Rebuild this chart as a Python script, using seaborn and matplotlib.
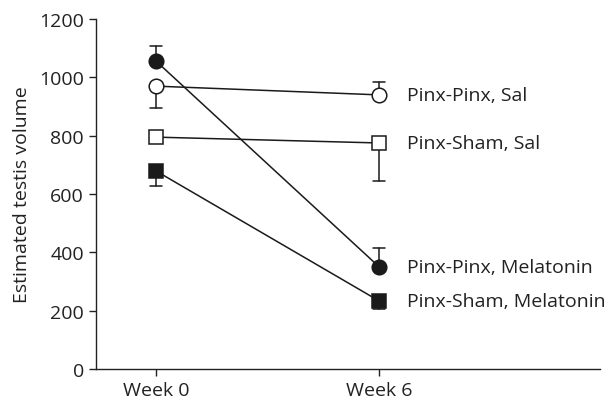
import matplotlib
matplotlib.use("Agg")
import matplotlib.pyplot as plt
import seaborn as sns
import pandas as pd
import numpy as np

weeks = ["Week 0", "Week 6"]
groups = ["Pinx-Pinx, Melatonin", "Pinx-Pinx, Sal", "Pinx-Sham, Sal", "Pinx-Sham, Melatonin"]
pp_mel = [1056, 350]
pp_sal = [970, 940]
ps_sal = [795, 775]
ps_mel = [679, 233]
# error bar ends (one-sided SEM)
pp_mel_err = [1107, 415]
pp_sal_err = [895, 985]
ps_sal_err = [None, 645]
ps_mel_err = [628, 205]

values = [pp_mel, pp_sal, ps_sal, ps_mel]
err_ends = [pp_mel_err, pp_sal_err, ps_sal_err, ps_mel_err]
markers = ["o", "o", "s", "s"]
faces = ["#1a1a1a", "white", "white", "#1a1a1a"]

rows = []
for g, vals in zip(groups, values):
    for i, v in enumerate(vals):
        rows.append({"group": g, "x": i, "volume": v})
df = pd.DataFrame(rows)

sns.set_style("ticks")
plt.rcParams["font.family"] = ["Open Sans", "DejaVu Sans"]

fig = plt.figure(figsize=(6.06, 4.02), dpi=100)
ax = fig.add_axes([0.158, 0.080, 0.832, 0.870])

for g, vals, ends in zip(groups, values, err_ends):
    for i, (v, e) in enumerate(zip(vals, ends)):
        if e is None:
            continue
        ax.plot([i, i], [v, e], color="#1a1a1a", lw=1.1, zorder=1)
        ax.plot([i - 0.025, i + 0.025], [e, e], color="#1a1a1a", lw=1.1, zorder=1)

for g, m, fc in zip(groups, markers, faces):
    sns.lineplot(data=df[df["group"] == g], x="x", y="volume", ax=ax,
                 color="#1a1a1a", lw=1.1, marker=m, markersize=10.5 if m == "o" else 9.5,
                 markerfacecolor=fc, markeredgecolor="#1a1a1a", markeredgewidth=1.1,
                 legend=False, zorder=3)

for g, vals in zip(groups, values):
    ax.text(1.125, vals[1], g, va="center", ha="left", fontsize=14, color="#222222")

ax.set_xlim(-0.27, 1.99)
ax.set_ylim(0, 1200)
ax.set_xticks([0, 1])
ax.set_xticklabels(weeks)
ax.set_yticks(np.arange(0, 1201, 200))
ax.set_xlabel("")
ax.set_ylabel("Estimated testis volume", fontsize=14, color="#222222", labelpad=6)
ax.tick_params(labelsize=14, colors="#222222", length=5, width=1)
for s in ["left", "bottom"]:
    ax.spines[s].set_color("#222222")
    ax.spines[s].set_linewidth(1)
sns.despine(ax=ax)

fig.savefig("out.png", dpi=100)
